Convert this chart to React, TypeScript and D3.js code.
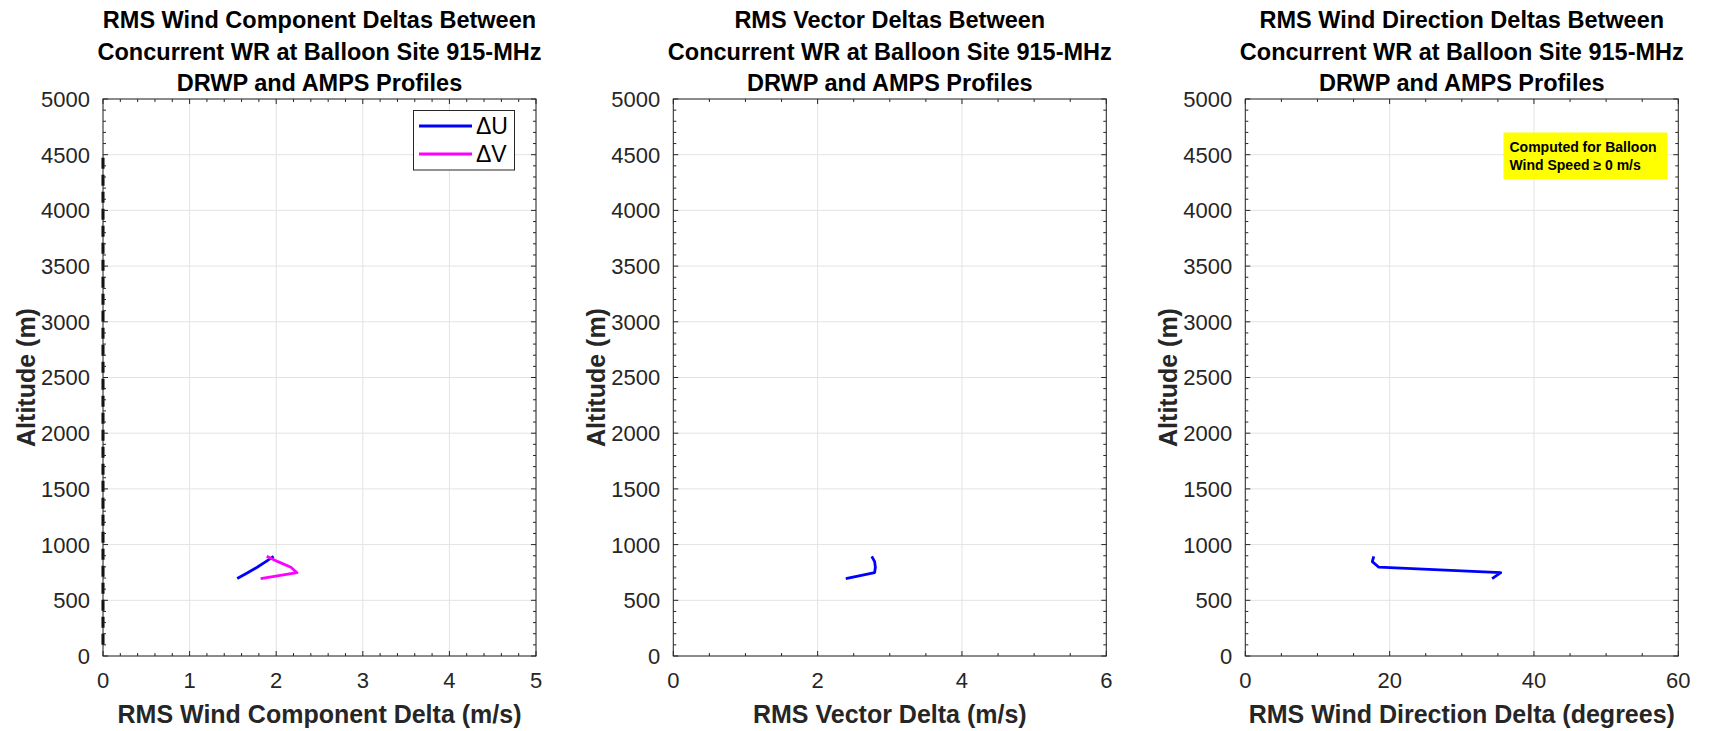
import React from "react";
import * as d3 from "d3";

const WIDTH = 1713;
const HEIGHT = 731;

// Profile altitudes (m) shared by every series
const altitudes = [695, 748, 797, 847, 895];

// RMS wind component deltas (m/s)
const deltaU = [1.55, 1.67, 1.78, 1.88, 1.97];
const deltaV = [1.82, 2.24, 2.17, 2.02, 1.89];

// RMS vector delta (m/s)
const vectorDelta = [2.39, 2.79, 2.8, 2.79, 2.75];

// RMS wind direction delta (degrees)
const directionDelta = [34.2, 35.4, 18.5, 17.6, 17.8];

// Zero reference trace along the altitude axis
const zeroRefAltitude = [100, 4500];
const zeroRefDelta = [0, 0];

// Axis ticks
const altitudeTicks = d3.range(0, 5001, 500);
const altitudeMinorTicks = d3.range(0, 5001, 100);

const titleCommon = ["Concurrent WR at Balloon Site 915-MHz", "DRWP and AMPS Profiles"];
const panelTitles = [
  ["RMS Wind Component Deltas Between", ...titleCommon],
  ["RMS Vector Deltas Between", ...titleCommon],
  ["RMS Wind Direction Deltas Between", ...titleCommon],
];
const xLabels = [
  "RMS Wind Component Delta (m/s)",
  "RMS Vector Delta (m/s)",
  "RMS Wind Direction Delta (degrees)",
];
const yLabel = "Altitude (m)";
const legendLabels = ["\u0394U", "\u0394V"];
const noteLines = ["Computed for Balloon", "Wind Speed \u2265 0 m/s"];

const FONT = "'Liberation Sans', Arial, Helvetica, sans-serif";
const AXIS_COLOR = "#262626";
const GRID_COLOR = "#e3e3e3";

const PLOT_TOP = 99;
const PLOT_BOTTOM = 656;
const PLOT_WIDTH = 433;
const PLOT_LEFTS = [103, 673.3, 1245.3];

const TICK_FONT = 22;
const LABEL_FONT = 25;
const TITLE_FONT = 23.5;

type Series = { x: number[]; y: number[]; color: string; dash?: string; width: number };

type PanelSpec = {
  left: number;
  title: string[];
  xLabel: string;
  xDomain: [number, number];
  xMajor: number;
  xMinor: number;
  series: Series[];
  legend?: boolean;
  note?: boolean;
};

const panels: PanelSpec[] = [
  {
    left: PLOT_LEFTS[0],
    title: panelTitles[0],
    xLabel: xLabels[0],
    xDomain: [0, 5],
    xMajor: 1,
    xMinor: 0.2,
    series: [
      { x: zeroRefDelta, y: zeroRefAltitude, color: "#000000", dash: "11,6", width: 3 },
      { x: deltaU, y: altitudes, color: "#0000ff", width: 2.8 },
      { x: deltaV, y: altitudes, color: "#ff00ff", width: 2.8 },
    ],
    legend: true,
  },
  {
    left: PLOT_LEFTS[1],
    title: panelTitles[1],
    xLabel: xLabels[1],
    xDomain: [0, 6],
    xMajor: 2,
    xMinor: 0.5,
    series: [{ x: vectorDelta, y: altitudes, color: "#0000ff", width: 2.8 }],
  },
  {
    left: PLOT_LEFTS[2],
    title: panelTitles[2],
    xLabel: xLabels[2],
    xDomain: [0, 60],
    xMajor: 20,
    xMinor: 5,
    series: [{ x: directionDelta, y: altitudes, color: "#0000ff", width: 2.8 }],
    note: true,
  },
];

function Panel({ spec }: { spec: PanelSpec }) {
  const { left } = spec;
  const right = left + PLOT_WIDTH;
  const x = d3.scaleLinear().domain(spec.xDomain).range([left, right]);
  const y = d3.scaleLinear().domain([0, 5000]).range([PLOT_BOTTOM, PLOT_TOP]);
  const xTicks = d3.range(spec.xDomain[0], spec.xDomain[1] + 1e-9, spec.xMajor);
  const xMinor = d3.range(spec.xDomain[0], spec.xDomain[1] + 1e-9, spec.xMinor);
  const cx = (left + right) / 2;
  const cy = (PLOT_TOP + PLOT_BOTTOM) / 2;
  const line = d3
    .line<[number, number]>()
    .x((d) => x(d[0]))
    .y((d) => y(d[1]));
  const MAJ = 5;
  const MIN = 3;

  return (
    <g>
      {/* grid */}
      {xTicks.map((t) => (
        <line key={"gx" + t} x1={x(t)} x2={x(t)} y1={PLOT_TOP} y2={PLOT_BOTTOM} stroke={GRID_COLOR} strokeWidth={1} />
      ))}
      {altitudeTicks.map((t) => (
        <line key={"gy" + t} x1={left} x2={right} y1={y(t)} y2={y(t)} stroke={GRID_COLOR} strokeWidth={1} />
      ))}

      {/* data */}
      <g>
        {spec.series.map((s, i) => (
          <path
            key={"s" + i}
            d={line(s.x.map((v, j) => [v, s.y[j]] as [number, number])) || ""}
            fill="none"
            stroke={s.color}
            strokeWidth={s.width}
            strokeDasharray={s.dash}
            strokeLinejoin="round"
          />
        ))}
      </g>

      {/* box */}
      <rect x={left} y={PLOT_TOP} width={PLOT_WIDTH} height={PLOT_BOTTOM - PLOT_TOP} fill="none" stroke={AXIS_COLOR} strokeWidth={1} />

      {/* ticks, inward on all four sides */}
      {xMinor.map((t) => {
        const major = xTicks.some((m) => Math.abs(m - t) < 1e-9);
        const len = major ? MAJ : MIN;
        return (
          <g key={"tx" + t}>
            <line x1={x(t)} x2={x(t)} y1={PLOT_BOTTOM} y2={PLOT_BOTTOM - len} stroke={AXIS_COLOR} />
            <line x1={x(t)} x2={x(t)} y1={PLOT_TOP} y2={PLOT_TOP + len} stroke={AXIS_COLOR} />
          </g>
        );
      })}
      {altitudeMinorTicks.map((t) => {
        const major = t % 500 === 0;
        const len = major ? MAJ : MIN;
        return (
          <g key={"ty" + t}>
            <line x1={left} x2={left + len} y1={y(t)} y2={y(t)} stroke={AXIS_COLOR} />
            <line x1={right} x2={right - len} y1={y(t)} y2={y(t)} stroke={AXIS_COLOR} />
          </g>
        );
      })}

      {/* tick labels */}
      {xTicks.map((t) => (
        <text key={"lx" + t} x={x(t)} y={PLOT_BOTTOM + 32} textAnchor="middle" fontSize={TICK_FONT} fill={AXIS_COLOR} fontFamily={FONT}>
          {d3.format("d")(t)}
        </text>
      ))}
      {altitudeTicks.map((t) => (
        <text key={"ly" + t} x={left - 13} y={y(t)} dy="0.36em" textAnchor="end" fontSize={TICK_FONT} fill={AXIS_COLOR} fontFamily={FONT}>
          {t}
        </text>
      ))}

      {/* axis labels */}
      <text x={cx} y={PLOT_BOTTOM + 67} textAnchor="middle" fontSize={LABEL_FONT} fontWeight="bold" fill={AXIS_COLOR} fontFamily={FONT}>
        {spec.xLabel}
      </text>
      <text
        transform={`translate(${left - 68},${cy}) rotate(-90)`}
        textAnchor="middle"
        fontSize={LABEL_FONT}
        fontWeight="bold"
        fill={AXIS_COLOR}
        fontFamily={FONT}
      >
        {yLabel}
      </text>

      {/* title */}
      {spec.title.map((ln, i) => (
        <text key={"t" + i} x={cx} y={28 + i * 31.5} textAnchor="middle" fontSize={TITLE_FONT} fontWeight="bold" fill="#000" fontFamily={FONT}>
          {ln}
        </text>
      ))}

      {spec.legend && (
        <g>
          <rect x={413.5} y={110.5} width={101} height={59.5} fill="#fff" stroke={AXIS_COLOR} strokeWidth={1} />
          {spec.series.slice(1).map((s, i) => (
            <g key={"lg" + i}>
              <line x1={419} x2={472} y1={126 + i * 28} y2={126 + i * 28} stroke={s.color} strokeWidth={s.width} />
              <text x={476} y={126 + i * 28} dy="0.36em" fontSize={23} fill="#000" fontFamily={FONT}>
                {legendLabels[i]}
              </text>
            </g>
          ))}
        </g>
      )}

      {spec.note && (
        <g>
          <rect x={1503.5} y={132.5} width={164} height={46.5} fill="#ffff00" />
          {noteLines.map((ln, i) => (
            <text key={"n" + i} x={1509.5} y={152 + i * 18} fontSize={14} fontWeight="bold" fill="#000" fontFamily={FONT}>
              {ln}
            </text>
          ))}
        </g>
      )}
    </g>
  );
}

export default function App() {
  return (
    <svg
      width={WIDTH}
      height={HEIGHT}
      viewBox={`0 0 ${WIDTH} ${HEIGHT}`}
      style={{ position: "absolute", left: 0, top: 0, background: "#fff" }}
    >
      <rect width={WIDTH} height={HEIGHT} fill="#fff" />
      {panels.map((p, i) => (
        <Panel key={i} spec={p} />
      ))}
    </svg>
  );
}
